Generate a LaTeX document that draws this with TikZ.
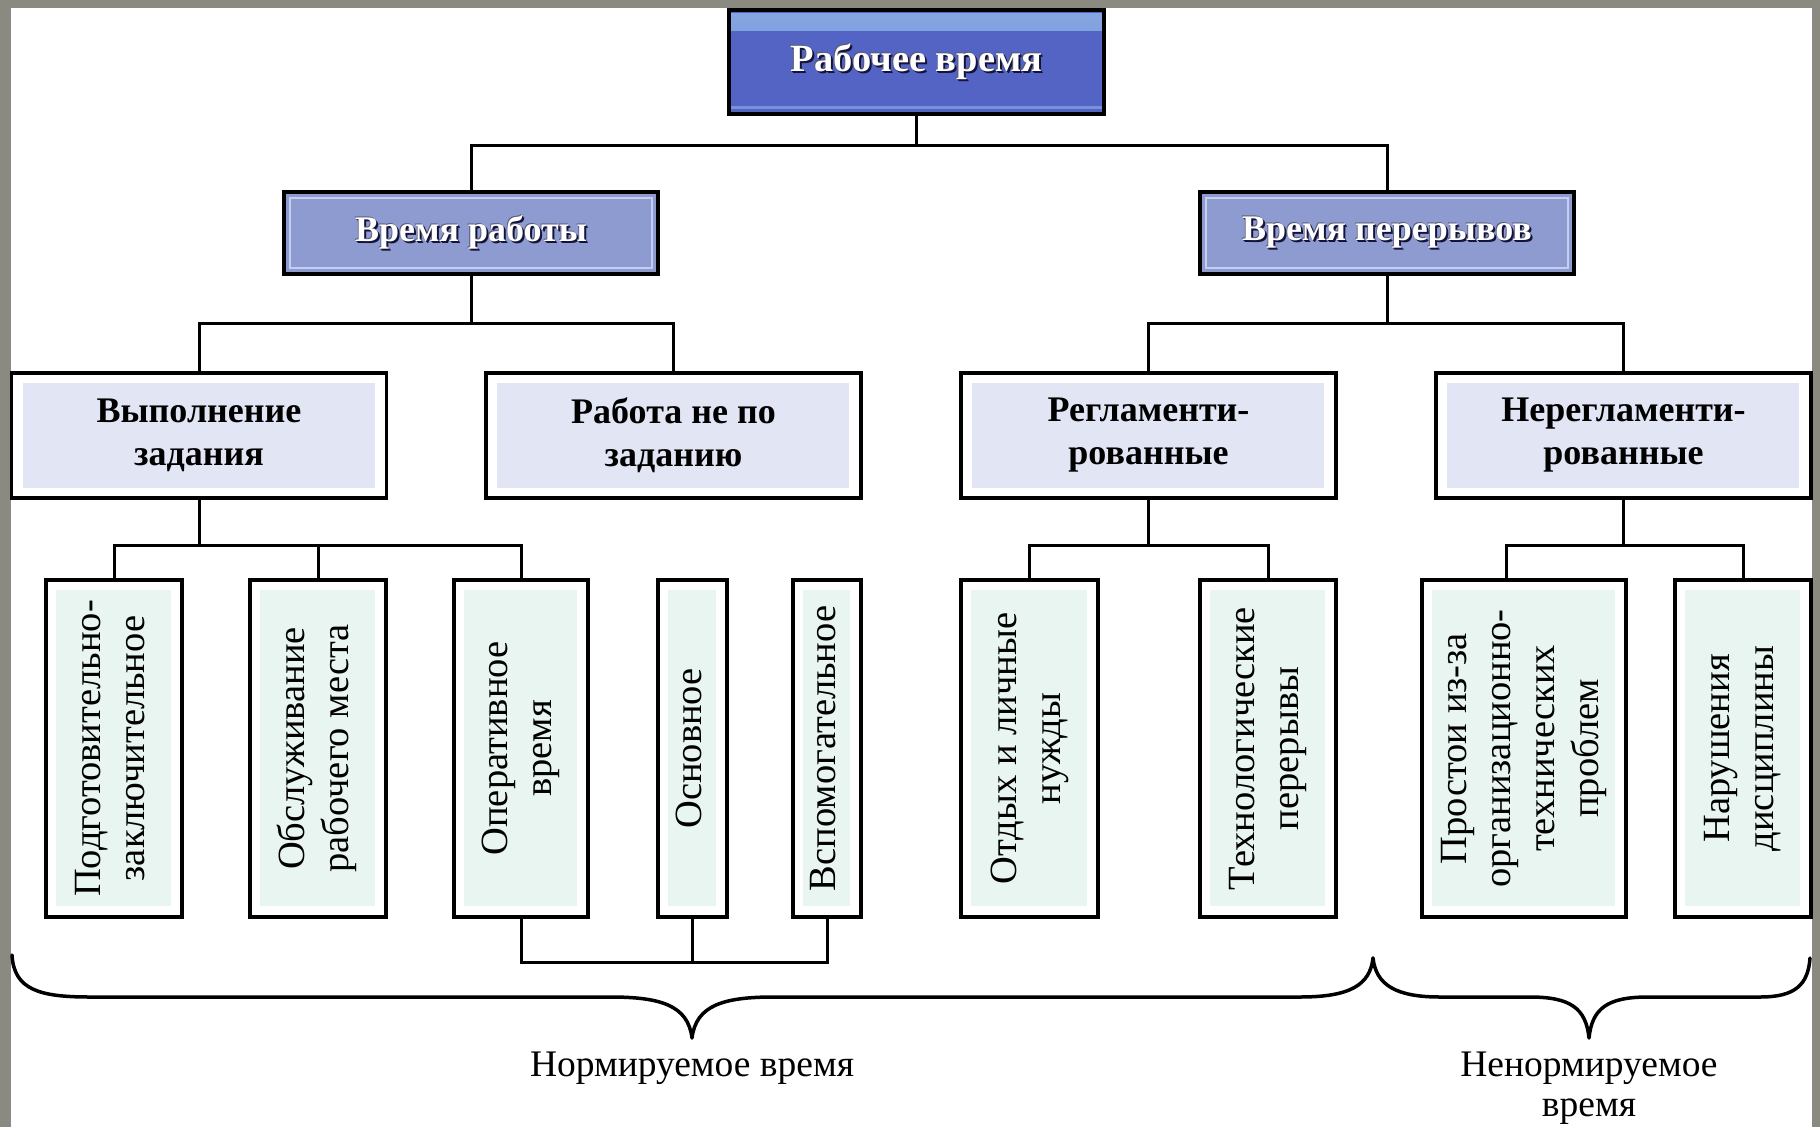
\documentclass[tikz,border=0pt]{standalone}
\usepackage{fontspec}
\setmainfont{Liberation Serif}
\usetikzlibrary{calc}
\definecolor{framegray}{HTML}{8A8A80}
\definecolor{topblue}{HTML}{5464C4}
\definecolor{stripc}{HTML}{86A6E2}
\definecolor{midblue}{HTML}{8E9BD0}
\definecolor{midline}{HTML}{C5CEEE}
\definecolor{catin}{HTML}{E1E5F4}
\definecolor{leafin}{HTML}{E9F5F0}
\definecolor{shadowc}{HTML}{14143A}
\newcommand{\shtx}[1]{\leavevmode\rlap{\hspace{2pt}\raisebox{-2pt}{\textcolor{shadowc}{#1}}}\rlap{\hspace{1pt}\raisebox{-1pt}{\textcolor{shadowc}{#1}}}\rlap{\hspace{-0.8pt}\raisebox{0.8pt}{\textcolor{shadowc!70}{#1}}}\textcolor{white}{#1}}
\newcommand{\vtext}[1]{\rotatebox{90}{\begin{tabular}{@{}c@{}}#1\end{tabular}}}
\tikzset{
  box/.style={draw=black, line width=3.5pt, inner sep=0pt, align=center, font=\fontsize{36}{43}\selectfont},
  topbox/.style={box, fill=topblue, minimum width=375pt, minimum height=104pt, font=\fontsize{38.5}{44}\selectfont\bfseries,
    path picture={\shade[top color=stripc, bottom color=stripc!60!topblue] ([shift={(2pt,-3pt)}]path picture bounding box.north west) rectangle ([shift={(-2pt,-20pt)}]path picture bounding box.north east);
      \fill[stripc!70!topblue] ([shift={(2pt,5pt)}]path picture bounding box.south west) rectangle ([shift={(-2pt,8pt)}]path picture bounding box.south east);}},
  midbox/.style={box, fill=midblue, minimum width=374pt, minimum height=82pt, font=\fontsize{36}{43}\selectfont\bfseries,
    path picture={\draw[midline, line width=1.5pt] ([shift={(6pt,-6pt)}]path picture bounding box.north west) rectangle ([shift={(-6pt,6pt)}]path picture bounding box.south east);}},
  catbox/.style={box, fill=white, minimum width=375pt, minimum height=125pt, font=\fontsize{36}{43}\selectfont\bfseries,
    path picture={\fill[catin] ([shift={(11pt,-10pt)}]path picture bounding box.north west) rectangle ([shift={(-12pt,10pt)}]path picture bounding box.south east);}},
  leaf/.style={box, fill=white, minimum height=337pt, font=\fontsize{38.5}{44}\selectfont,
    path picture={\fill[leafin] ([shift={(10pt,-10pt)}]path picture bounding box.north west) rectangle ([shift={(-11pt,11pt)}]path picture bounding box.south east);}},
  conn/.style={line width=3pt, draw=black},
  brace/.style={line width=3.5pt, draw=black, line cap=round, line join=round},
  lbl/.style={inner sep=0pt, align=center, font=\fontsize{37.5}{40}\selectfont}
}
\begin{document}
\begin{tikzpicture}[x=1pt, y=-1pt]
\useasboundingbox (0,0) rectangle (1820,1127);
\fill[framegray] (0,0) rectangle (1820,1127);
\fill[white] (11,8) rectangle (1812,1127);

% bus levels
\coordinate (b1) at (0,145);
\coordinate (b2) at (0,323);
\coordinate (b3) at (0,545.5);
\coordinate (b4) at (0,962);

\node[topbox] (top) at (916.5,62) {\shtx{Рабочее время}};
\node[midbox] (wr) at (471,232.75) {\shtx{Время работы}};
\node[midbox] (wp) at (1387,232.75) {\shtx{Время перерывов}};

\node[catbox] (vz) at (199,435.3) {Выполнение\\задания};
\node[catbox] (rz) at (673.5,435.3) {Работа не по\\заданию};
\node[catbox] (rg) at (1148.5,435.3) {Регламенти-\\рованные};
\node[catbox] (nr) at (1623.5,435.3) {Нерегламенти-\\рованные};

\node[leaf, minimum width=136pt] (pz) at (114,748.5) {\vtext{Подготовительно-\\заключительное}};
\node[leaf, minimum width=136pt] (ob) at (318,748.5) {\vtext{Обслуживание\\рабочего места}};
\node[leaf, minimum width=134pt] (op) at (521,748.5) {\vtext{Оперативное\\время}};
\node[leaf, minimum width=69pt] (os) at (692.5,748.5) {\vtext{Основное}};
\node[leaf, minimum width=68pt] (vs) at (827,748.5) {\vtext{Вспомогательное}};
\node[leaf, minimum width=137pt] (ot) at (1029.5,748.5) {\vtext{Отдых и личные\\нужды}};
\node[leaf, minimum width=136pt] (th) at (1268,748.5) {\vtext{Технологические\\перерывы}};
\node[leaf, minimum width=204pt] (pr) at (1524,748.5) {\vtext{Простои из-за\\организационно-\\технических\\проблем}};
\node[leaf, minimum width=136pt] (nd) at (1743,748.5) {\vtext{Нарушения\\дисциплины}};

% connectors
\draw[conn] (top.south) -- (top.south |- b1);
\draw[conn] (wr.north) |- (wp.north |- b1) -- (wp.north);
\draw[conn] (wr.south) -- (wr.south |- b2);
\draw[conn] (vz.north) |- (rz.north |- b2) -- (rz.north);
\draw[conn] (wp.south) -- (wp.south |- b2);
\draw[conn] (rg.north) |- (nr.north |- b2) -- (nr.north);
\draw[conn] (vz.south) -- (vz.south |- b3);
\draw[conn] (pz.north) |- (op.north |- b3) -- (op.north);
\draw[conn] (ob.north) -- (ob.north |- b3);
\draw[conn] (rg.south) -- (rg.south |- b3);
\draw[conn] (ot.north) |- (th.north |- b3) -- (th.north);
\draw[conn] (nr.south) -- (nr.south |- b3);
\coordinate (prtop) at ($(pr.north)+(-18,0)$);
\draw[conn] (prtop) |- (nd.north |- b3) -- (nd.north);
\draw[conn] (op.south) |- (vs.south |- b4) -- (vs.south);
\draw[conn] (os.south) -- (os.south |- b4);

% braces
\draw[brace] (12,955) .. controls (14,990) and (40,997) .. (90,997) -- (610,997)
  .. controls (660,997) and (688,1005) .. (692,1038)
  .. controls (696,1005) and (724,997) .. (774,997) -- (1300,997)
  .. controls (1350,997) and (1370,985) .. (1373,958);
\draw[brace] (1373,958) .. controls (1376,985) and (1396,997) .. (1440,997) -- (1530,997)
  .. controls (1570,997) and (1586,1008) .. (1589,1038)
  .. controls (1592,1008) and (1608,997) .. (1648,997) -- (1760,997)
  .. controls (1795,997) and (1808,985) .. (1810,958);

\node[lbl] (norm) at (692,1068) {Нормируемое время};
\node[lbl] (nenorm) at (1589,1088) {Ненормируемое\\время};
\end{tikzpicture}
\end{document}
